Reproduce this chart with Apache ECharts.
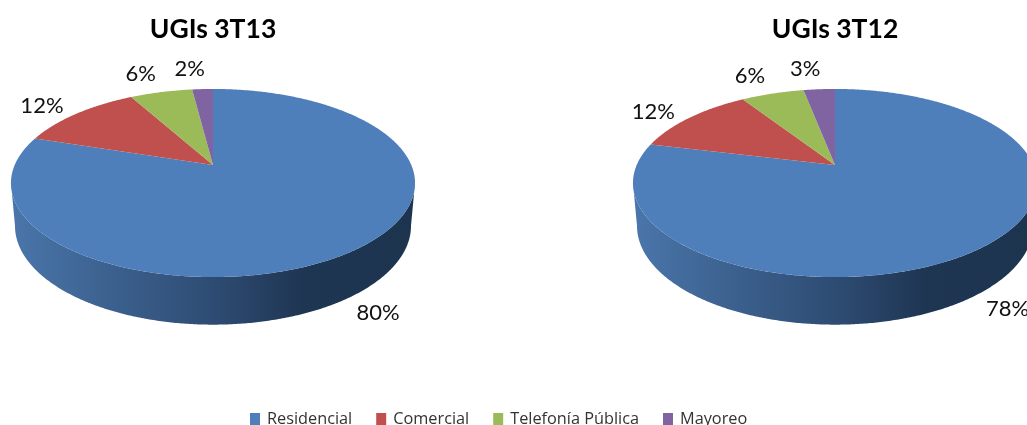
<!DOCTYPE html>
<html>
<head>
<meta charset="utf-8">
<style>
html, body { margin: 0; padding: 0; background: #fff; overflow: hidden; }
#chart { width: 1027px; height: 425px; }
</style>
<script src="https://cdn.jsdelivr.net/npm/echarts@6/dist/echarts.min.js"></script>
</head>
<body>
<div id="chart"></div>
<script>
const categories = ['Residencial', 'Comercial', 'Telefonía Pública', 'Mayoreo'];
const panels = ['UGIs 3T13', 'UGIs 3T12'];
const values3T13 = [80, 12, 6, 2];
const values3T12 = [78, 12, 6, 3];
const colors = ['#4e7fbb', '#c0504d', '#9bbb59', '#8064a2'];

const panelValues = [values3T13, values3T12];
const centers = [213, 835];

// perspective of the tilted disc
const apexY = 165;
const radiusX = 198.3;
const radiusY = 90.6;
const tilt = 0.1915;

const project = (cx, t) => {
    const w = 1 + tilt * Math.cos(t);
    return [cx + radiusX * Math.sin(t) / w, apexY - radiusY * Math.cos(t) / w];
};

// lower edge of the disc side
const lower = (cx, p) => [cx + (p[0] - cx) * 0.98, apexY + (p[1] - apexY) * 1.05 + 42];

const arcPoints = (cx, from, to) => {
    const pts = [];
    const steps = Math.max(2, Math.ceil(Math.abs(to - from) / (Math.PI / 360)));
    for (let i = 0; i <= steps; i++) {
        pts.push(project(cx, from + (to - from) * i / steps));
    }
    return pts;
};

const renderSlice = (params, api) => {
    const panel = api.value(0);
    const start = api.value(1) * 2 * Math.PI;
    const end = api.value(2) * 2 * Math.PI;
    const cx = centers[panel];
    const mid = (start + end) / 2;
    const children = [];

    // side wall, only where the slice faces the viewer
    const sideFrom = Math.max(start, Math.PI * 101 / 180);
    const sideTo = Math.min(end, Math.PI * 259 / 180);
    if (sideTo > sideFrom) {
        const upper = arcPoints(cx, sideFrom, sideTo);
        const down = upper.map((p) => lower(cx, p)).reverse();
        children.push({
            type: 'polygon',
            shape: { points: upper.concat(down) },
            style: {
                fill: new echarts.graphic.LinearGradient(1, 0, 0, 0, [
                    { offset: 0, color: '#1d344f' },
                    { offset: 0.28, color: '#1f3653' },
                    { offset: 0.5, color: '#2e4c73' },
                    { offset: 0.78, color: '#3d6391' },
                    { offset: 1, color: '#4a76ab' }
                ])
            }
        });
    }

    children.push({
        type: 'polygon',
        shape: { points: [[cx, apexY]].concat(arcPoints(cx, start, end)) },
        style: { fill: colors[params.seriesIndex] }
    });

    const edge = project(cx, mid);
    const sin = Math.sin(mid);
    const cos = Math.cos(mid);
    children.push({
        type: 'text',
        x: edge[0] + Math.sign(sin) * (10 + 31 * Math.abs(sin)) - 1,
        y: edge[1] + 13 - 33 * cos + (cos < 0 ? 21 : 0),
        style: {
            text: api.value(3) + '%',
            fill: '#111',
            font: '22px Lato',
            align: 'center',
            verticalAlign: 'middle'
        }
    });

    return { type: 'group', children: children };
};

const seriesData = (catIndex) => panelValues.map((vals, panel) => {
    const total = vals.reduce((a, b) => a + b, 0);
    const before = vals.slice(0, catIndex).reduce((a, b) => a + b, 0);
    return [panel, before / total, (before + vals[catIndex]) / total, vals[catIndex]];
});

const chart = echarts.init(document.getElementById('chart'));

chart.setOption({
    animation: false,
    backgroundColor: '#fff',
    title: panels.map((name, i) => ({
        text: name,
        left: centers[i],
        top: 16,
        padding: 0,
        textAlign: 'center',
        textStyle: { fontFamily: 'Lato', fontSize: 26.5, fontWeight: 'bold', color: '#000' }
    })),
    legend: {
        data: categories,
        left: 250,
        top: 411,
        padding: 0,
        icon: 'rect',
        itemWidth: 10,
        itemHeight: 12,
        itemGap: 24,
        textStyle: { fontFamily: 'Open Sans', fontSize: 16.3, color: '#333', padding: [0, 0, 0, 2] }
    },
    series: categories.map((name, i) => ({
        name: name,
        type: 'custom',
        coordinateSystem: 'none',
        color: colors[i],
        itemStyle: { color: colors[i] },
        renderItem: renderSlice,
        data: seriesData(i)
    }))
});
</script>
</body>
</html>
